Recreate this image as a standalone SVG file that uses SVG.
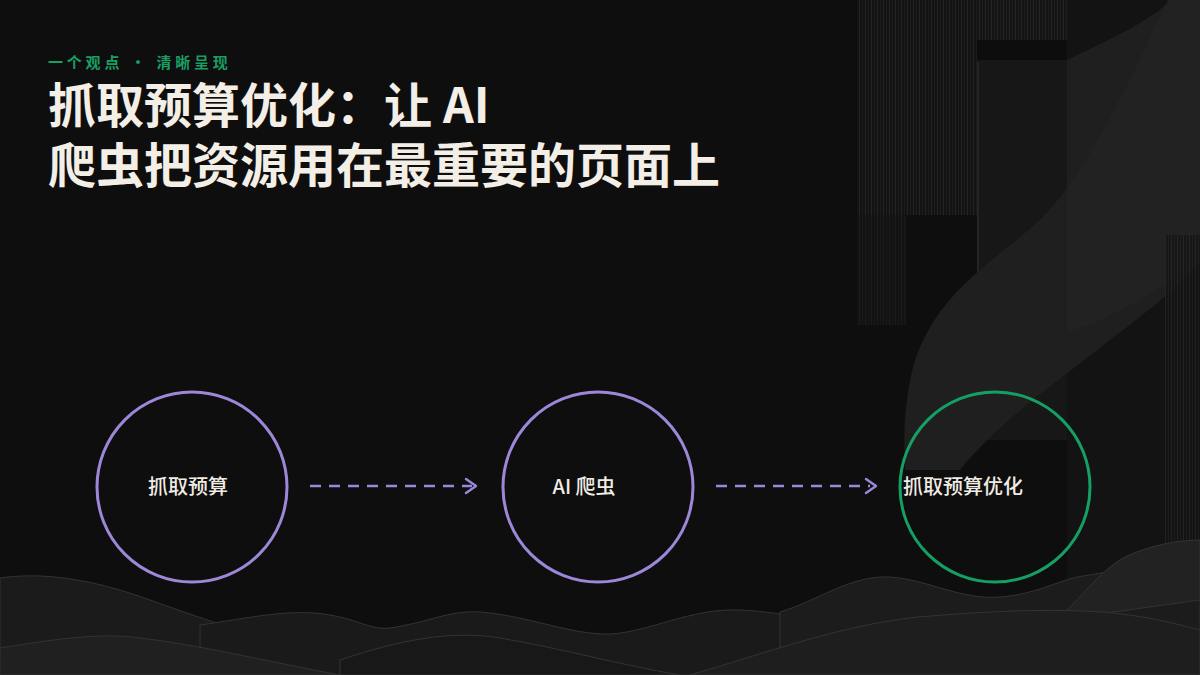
<svg xmlns="http://www.w3.org/2000/svg" width="1200" height="675" viewBox="0 0 1200 675">
<defs>
<style>
.cjk{font-family:"Noto Sans CJK SC","Noto Sans",sans-serif}
.title{font-size:48px;font-weight:700;fill:#f3efe6}
.kicker{font-size:15px;font-weight:700;fill:#1a9e63;letter-spacing:3.8px}
.label{font-size:20px;font-weight:500;fill:#f0ece4}
.ring{fill:none;stroke-width:3}
.purple{stroke:#9d87d9}
.green{stroke:#14a064}
.conn{fill:none;stroke:#9d87d9;stroke-width:2.5;stroke-dasharray:11 8}
.head{fill:none;stroke:#9d87d9;stroke-width:2.5;stroke-linecap:round;stroke-linejoin:round}
.wave{stroke:#333;stroke-width:1}
</style>
<pattern id="pin" width="6" height="10" patternUnits="userSpaceOnUse">
<rect width="6" height="10" fill="#141414"/>
<line x1="1.5" y1="0" x2="1.5" y2="10" stroke="#262626" stroke-width="1"/>
<line x1="4.5" y1="0" x2="4.5" y2="10" stroke="#1e1e1e" stroke-width="1"/>
</pattern>
</defs>
<rect width="1200" height="675" fill="#0f0e0f"/>
<g id="decor-right">
<rect x="857" y="0" width="120" height="215" fill="url(#pin)" opacity="0.9"/>
<rect x="857" y="215" width="50" height="110" fill="url(#pin)" opacity="0.6"/>
<rect x="977" y="0" width="90" height="40" fill="url(#pin)"/>
<rect x="977" y="40" width="90" height="20" fill="#0d0d0d"/>
<rect x="977" y="60" width="90" height="380" fill="#171717"/>
<line x1="978" y1="62" x2="978" y2="440" stroke="#2a2a2a" stroke-width="1.5"/>
<rect x="1067" y="0" width="133" height="600" fill="#131313"/>
<path d="M1168,0 C1130,80 1090,170 1040,220 C990,265 940,290 915,360 C905,395 903,430 905,470 L960,470 C1000,420 1060,380 1110,340 C1150,310 1180,285 1200,262 L1200,0 Z" fill="#1f1f1f"/>
<path d="M1200,0 L1200,260 C1160,290 1110,320 1067,332 L1067,60 C1110,40 1160,15 1170,0 Z" fill="#232323" opacity="0.8"/>
<rect x="1165" y="235" width="35" height="330" fill="url(#pin)" opacity="0.8"/>
</g>
<g id="decor-bottom">
<path d="M0,578 C40,572 90,578 150,600 C200,618 240,632 300,645 L300,675 L0,675 Z" fill="#1b1b1b" class="wave"/>
<path d="M200,625 C250,618 290,608 330,615 C360,620 370,630 390,628 C430,622 450,610 480,612 C530,616 570,635 610,634 C650,632 690,608 740,610 C790,612 830,626 870,628 L870,675 L200,675 Z" fill="#1a1a1a" class="wave"/>
<path d="M780,612 C820,600 850,575 890,577 C930,580 960,600 1000,597 C1040,594 1060,578 1090,575 C1130,570 1160,548 1200,542 L1200,675 L780,675 Z" fill="#1c1c1c" class="wave"/>
<path d="M1056,620 C1080,600 1100,570 1125,557 C1150,545 1180,540 1200,540 L1200,600 Z" fill="#222" class="wave"/>
<path d="M0,648 C50,640 100,632 140,638 C200,645 260,660 340,675 L0,675 Z" fill="#202020" class="wave"/>
<path d="M340,660 C400,640 450,630 500,638 C560,648 620,665 680,675 L340,675 Z" fill="#181818" class="wave"/>
<path d="M690,675 C760,655 840,625 918,617 C980,612 1040,608 1102,612 C1140,615 1170,622 1200,630 L1200,675 Z" fill="#1e1e1e" class="wave"/>
</g>
<g id="header">
<text class="cjk kicker" x="48" y="68">一个观点 · 清晰呈现</text>
<text class="cjk title" x="48" y="123">抓取预算优化：让 AI</text>
<text class="cjk title" x="48" y="183">爬虫把资源用在最重要的页面上</text>
</g>
<g id="connectors">
<line class="conn" x1="310" y1="486" x2="472" y2="486"/>
<polyline class="head" points="466,479 476,486 466,493"/>
<line class="conn" x1="716" y1="486" x2="870" y2="486"/>
<polyline class="head" points="866,479 876,486 866,493"/>
</g>
<g id="node-crawl-budget">
<circle class="ring purple" cx="192" cy="487" r="95"/>
<text class="cjk label" x="188" y="494" text-anchor="middle">抓取预算</text>
</g>
<g id="node-ai-crawler">
<circle class="ring purple" cx="598" cy="487" r="95"/>
<text class="cjk label" x="584" y="494" text-anchor="middle">AI 爬虫</text>
</g>
<g id="node-optimization">
<circle class="ring green" cx="995" cy="487" r="95"/>
<text class="cjk label" x="963" y="494" text-anchor="middle">抓取预算优化</text>
</g>
</svg>
